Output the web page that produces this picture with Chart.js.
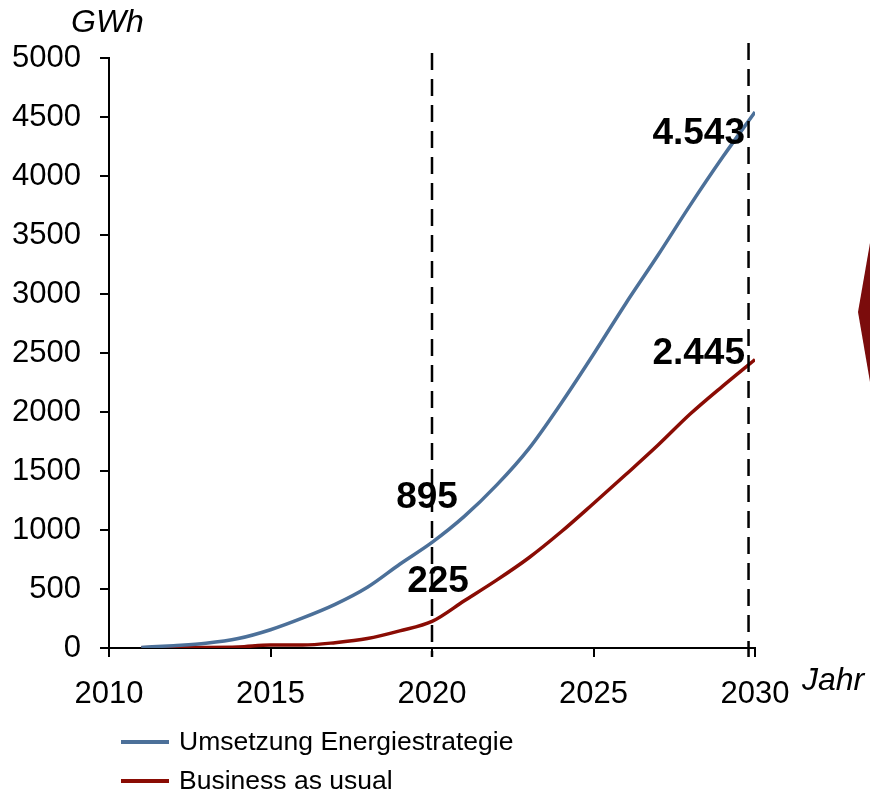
<!DOCTYPE html>
<html>
<head>
<meta charset="utf-8">
<script src="https://cdn.jsdelivr.net/npm/chart.js@4.4.1/dist/chart.umd.min.js"></script>
<style>
  html, body { margin: 0; padding: 0; background: #fff; overflow: hidden; }
  #wrap { width: 870px; height: 793px; position: relative; }
</style>
</head>
<body>
<div id="wrap"><canvas id="energy-chart" width="870" height="793"></canvas></div>
<script>
'use strict';

const years = [2011, 2012, 2013, 2014, 2015, 2016, 2017, 2018, 2019, 2020,
    2021, 2022, 2023, 2024, 2025, 2026, 2027, 2028, 2029, 2030];
const strategie = [5, 20, 40, 80, 155, 255, 370, 515, 710, 895,
    1115, 1380, 1690, 2075, 2490, 2920, 3330, 3755, 4160, 4543];
const business = [2, 5, 5, 8, 25, 25, 45, 80, 145, 225,
    400, 575, 765, 985, 1225, 1470, 1720, 1985, 2220, 2445];
const seriesNames = ['Umsetzung Energiestrategie', 'Business as usual'];
const markerYears = [2020, 2029.8];
const callouts = [
    { series: 0, year: 2020, text: '895' },
    { series: 1, year: 2020, text: '225' },
    { series: 0, year: 2030, text: '4.543' },
    { series: 1, year: 2030, text: '2.445' },
];

const FONT = "'Liberation Sans', Arial, sans-serif";
const BLUE = '#4c7099';
const RED = '#8a0c04';

function toPoints(values) {
    return years.map((y, i) => ({ x: y, y: values[i] }));
}

// dashed markers, value labels, axis titles, legend and the arrow tip
const decorations = {
    id: 'decorations',
    afterDatasetsDraw(chart) {
        const ctx = chart.ctx;
        const xs = chart.scales.x, ys = chart.scales.y;
        const area = chart.chartArea;

        ctx.save();
        ctx.strokeStyle = '#000';
        ctx.lineWidth = 2.5;
        ctx.setLineDash([17, 9]);
        markerYears.forEach((v, i) => {
            const px = xs.getPixelForValue(v);
            ctx.beginPath();
            ctx.moveTo(px, area.top - (i === 0 ? 5 : 15));
            ctx.lineTo(px, area.bottom + 9);
            ctx.stroke();
        });
        ctx.setLineDash([]);

        ctx.fillStyle = '#000';
        ctx.font = 'bold 37px ' + FONT;
        ctx.textBaseline = 'middle';
        callouts.forEach(c => {
            const vals = c.series === 0 ? strategie : business;
            const val = vals[years.indexOf(c.year)];
            const px = xs.getPixelForValue(c.year);
            const py = ys.getPixelForValue(val);
            if (c.year === 2030) {
                ctx.textAlign = 'right';
                ctx.fillText(c.text, px - 10, py + (c.series === 0 ? 22 : -6));
            } else {
                ctx.textAlign = 'center';
                ctx.fillText(c.text, px - (c.series === 0 ? 5 : -6),
                    py - (c.series === 0 ? 45 : 40));
            }
        });

        ctx.font = 'italic 32px ' + FONT;
        ctx.textAlign = 'left';
        ctx.textBaseline = 'alphabetic';
        ctx.fillText('GWh', 71, 32);
        ctx.fillText('Jahr', 802, 690);

        // legend
        chart.data.datasets.forEach((ds, i) => {
            const ly = 742 + i * 39;
            ctx.strokeStyle = ds.borderColor;
            ctx.lineWidth = 4;
            ctx.beginPath();
            ctx.moveTo(121, ly);
            ctx.lineTo(169, ly);
            ctx.stroke();
            ctx.fillStyle = '#000';
            ctx.font = '26.5px ' + FONT;
            ctx.textBaseline = 'middle';
            ctx.fillText(ds.label, 179, ly + 1);
        });

        // arrow tip cut off at the right edge
        ctx.fillStyle = '#7b0c0c';
        ctx.beginPath();
        ctx.moveTo(870, 243);
        ctx.lineTo(858, 312);
        ctx.lineTo(870, 382);
        ctx.closePath();
        ctx.fill();
        ctx.restore();
    },
};

const ctx = document.getElementById('energy-chart').getContext('2d');
window.energyChart = new Chart(ctx, {
    type: 'line',
    data: {
        datasets: [
            {
                label: seriesNames[0],
                data: toPoints(strategie),
                borderColor: BLUE,
                borderWidth: 3.5,
                pointRadius: 0,
                cubicInterpolationMode: 'monotone',
            },
            {
                label: seriesNames[1],
                data: toPoints(business),
                borderColor: RED,
                borderWidth: 3.5,
                pointRadius: 0,
                cubicInterpolationMode: 'monotone',
            }],
    },
    options: {
        responsive: false,
        animation: false,
        devicePixelRatio: 1,
        layout: { padding: { top: 58, right: 115, left: 0, bottom: 0 } },
        plugins: {
            legend: { display: false },
            tooltip: { enabled: false },
        },
        scales: {
            x: {
                type: 'linear',
                min: 2010,
                max: 2030,
                afterFit: function (scale) { scale.height = 145; },
                ticks: {
                    stepSize: 5,
                    color: '#000',
                    padding: 19,
                    maxRotation: 0,
                    font: { family: FONT, size: 31 },
                    callback: v => String(v),
                },
                grid: {
                    drawOnChartArea: false,
                    drawTicks: true,
                    tickLength: 9,
                    color: '#000',
                    lineWidth: 2,
                },
                border: { display: true, color: '#000', width: 2 },
            },
            y: {
                min: 0,
                max: 5000,
                afterFit: function (scale) { scale.width = 109; },
                ticks: {
                    stepSize: 500,
                    color: '#000',
                    padding: 19,
                    font: { family: FONT, size: 31 },
                    callback: v => String(v),
                },
                grid: {
                    drawOnChartArea: false,
                    drawTicks: true,
                    tickLength: 9,
                    color: '#000',
                    lineWidth: 2,
                },
                border: { display: true, color: '#000', width: 2 },
            },
        },
    },
    plugins: [decorations],
});
</script>
</body>
</html>
